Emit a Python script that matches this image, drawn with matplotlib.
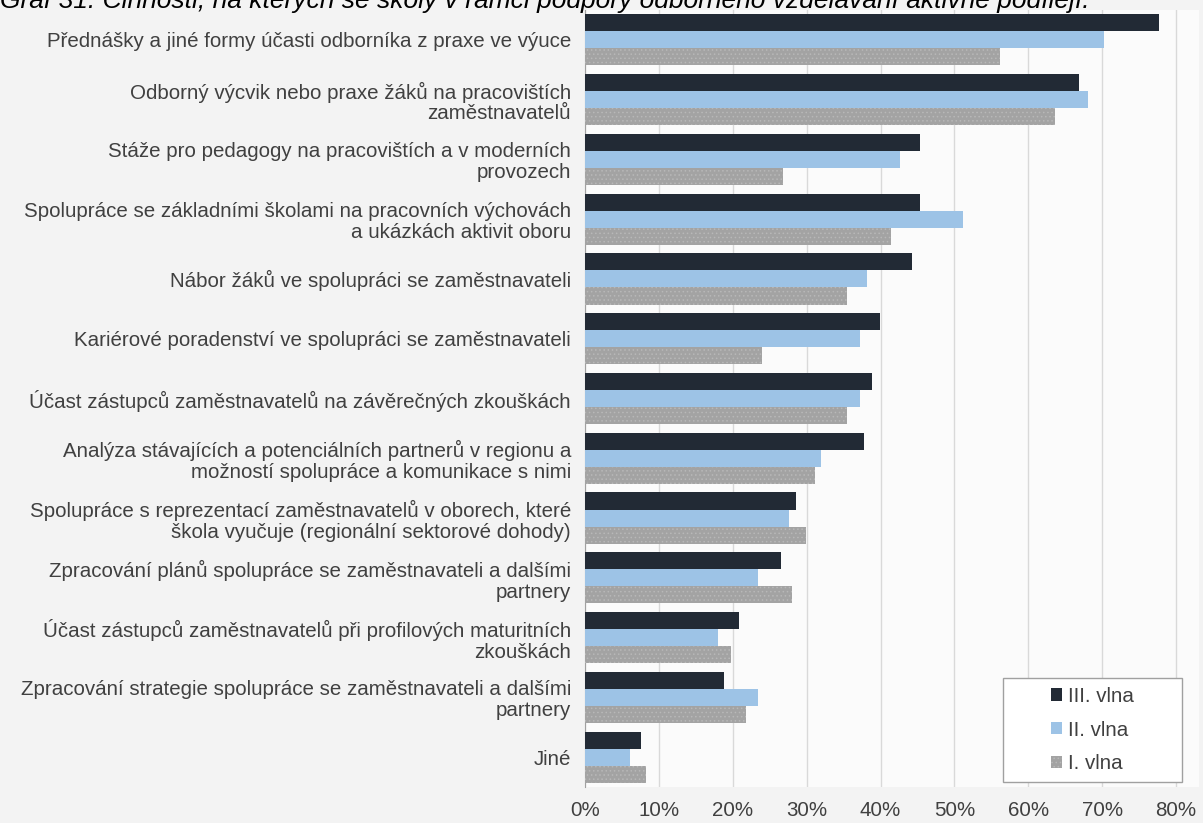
import numpy as np
import matplotlib
matplotlib.use("Agg")
from matplotlib import pyplot as plt
from matplotlib.patches import Rectangle
from matplotlib.ticker import PercentFormatter

plt.rcParams['font.family'] = ['Liberation Sans', 'DejaVu Sans']
plt.rcParams['hatch.linewidth'] = 0.6

kategorie = [
    "Přednášky a jiné formy účasti odborníka z praxe ve výuce",
    "Odborný výcvik nebo praxe žáků na pracovištích\nzaměstnavatelů",
    "Stáže pro pedagogy na pracovištích a v moderních\nprovozech",
    "Spolupráce se základními školami na pracovních výchovách\na ukázkách aktivit oboru",
    "Nábor žáků ve spolupráci se zaměstnavateli",
    "Kariérové poradenství ve spolupráci se zaměstnavateli",
    "Účast zástupců zaměstnavatelů na závěrečných zkouškách",
    "Analýza stávajících a potenciálních partnerů v regionu a\nmožností spolupráce a komunikace s nimi",
    "Spolupráce s reprezentací zaměstnavatelů v oborech, které\nškola vyučuje (regionální sektorové dohody)",
    "Zpracování plánů spolupráce se zaměstnavateli a dalšími\npartnery",
    "Účast zástupců zaměstnavatelů při profilových maturitních\nzkouškách",
    "Zpracování strategie spolupráce se zaměstnavateli a dalšími\npartnery",
    "Jiné",
]

vlna3 = [0.777, 0.668, 0.454, 0.454, 0.443, 0.399, 0.388, 0.377, 0.286, 0.265, 0.209, 0.188, 0.076]
vlna2 = [0.702, 0.681, 0.426, 0.511, 0.382, 0.372, 0.372, 0.319, 0.276, 0.234, 0.180, 0.234, 0.061]
vlna1 = [0.561, 0.636, 0.268, 0.414, 0.354, 0.239, 0.354, 0.311, 0.299, 0.280, 0.197, 0.218, 0.082]

nazvy = ["III. vlna", "II. vlna", "I. vlna"]
barvy = ["#222a35", "#9dc3e6", "#a3a3a3"]
titulek = "Graf 31: Činnosti, na kterých se školy v rámci podpory odborného vzdělávání aktivně podílejí."

fs = 14.8
fig = plt.figure(figsize=(12.03, 8.23), dpi=100)
fig.patch.set_facecolor("#f3f3f3")
ax = fig.add_axes([585/1203, 1-787/823, 614/1203, 777/823])
ax.set_facecolor("#fbfbfb")

y = np.arange(len(kategorie))
h = 0.285
ax.barh(y - h, vlna3, height=h, color=barvy[0], label=nazvy[0], zorder=3)
ax.barh(y, vlna2, height=h, color=barvy[1], label=nazvy[1], zorder=3)
ax.barh(y + h, vlna1, height=h, color=barvy[2], label=nazvy[2], zorder=3,
        hatch="....", edgecolor="#b8b8b8", linewidth=0)

ax.set_ylim(len(kategorie) - 0.5, -0.5)
ax.set_xlim(0, 0.831)
ax.set_xticks(np.arange(0, 0.81, 0.1))
ax.xaxis.set_major_formatter(PercentFormatter(1.0, decimals=0))
ax.set_yticks(y)
ax.set_yticklabels(kategorie, fontsize=fs, color="#404040", linespacing=1.12)
ax.tick_params(axis="y", length=0, pad=10)
ax.tick_params(axis="x", length=0, pad=10, labelsize=fs, labelcolor="#404040")
ax.grid(axis="x", color="#d9d9d9", linewidth=1, zorder=0)
for s in ["top", "right", "bottom"]:
    ax.spines[s].set_visible(False)
ax.spines["left"].set_color("#a0a0a0")

# ramecek legendy
x0, x1 = (1003-585)/614, (1182-585)/614
y0, y1 = (787-782)/777, (787-678)/777
ax.add_patch(Rectangle((x0, y0), x1-x0, y1-y0, transform=ax.transAxes,
                       facecolor="white", edgecolor="#a0a0a0", lw=1, zorder=5))
leg = ax.legend(loc="center", bbox_to_anchor=((x0+x1)/2, (y0+y1)/2), fontsize=fs,
                frameon=False, handlelength=0.55, handleheight=0.55,
                handletextpad=0.3, labelspacing=0.72, borderpad=0,
                labelcolor="#404040")
leg.set_zorder(6)

fig.text(0.0, 1-8/823, titulek, fontsize=19, style="italic",
         ha="left", va="baseline", color="#000000")

fig.savefig("out.png", dpi=100, facecolor=fig.get_facecolor())
